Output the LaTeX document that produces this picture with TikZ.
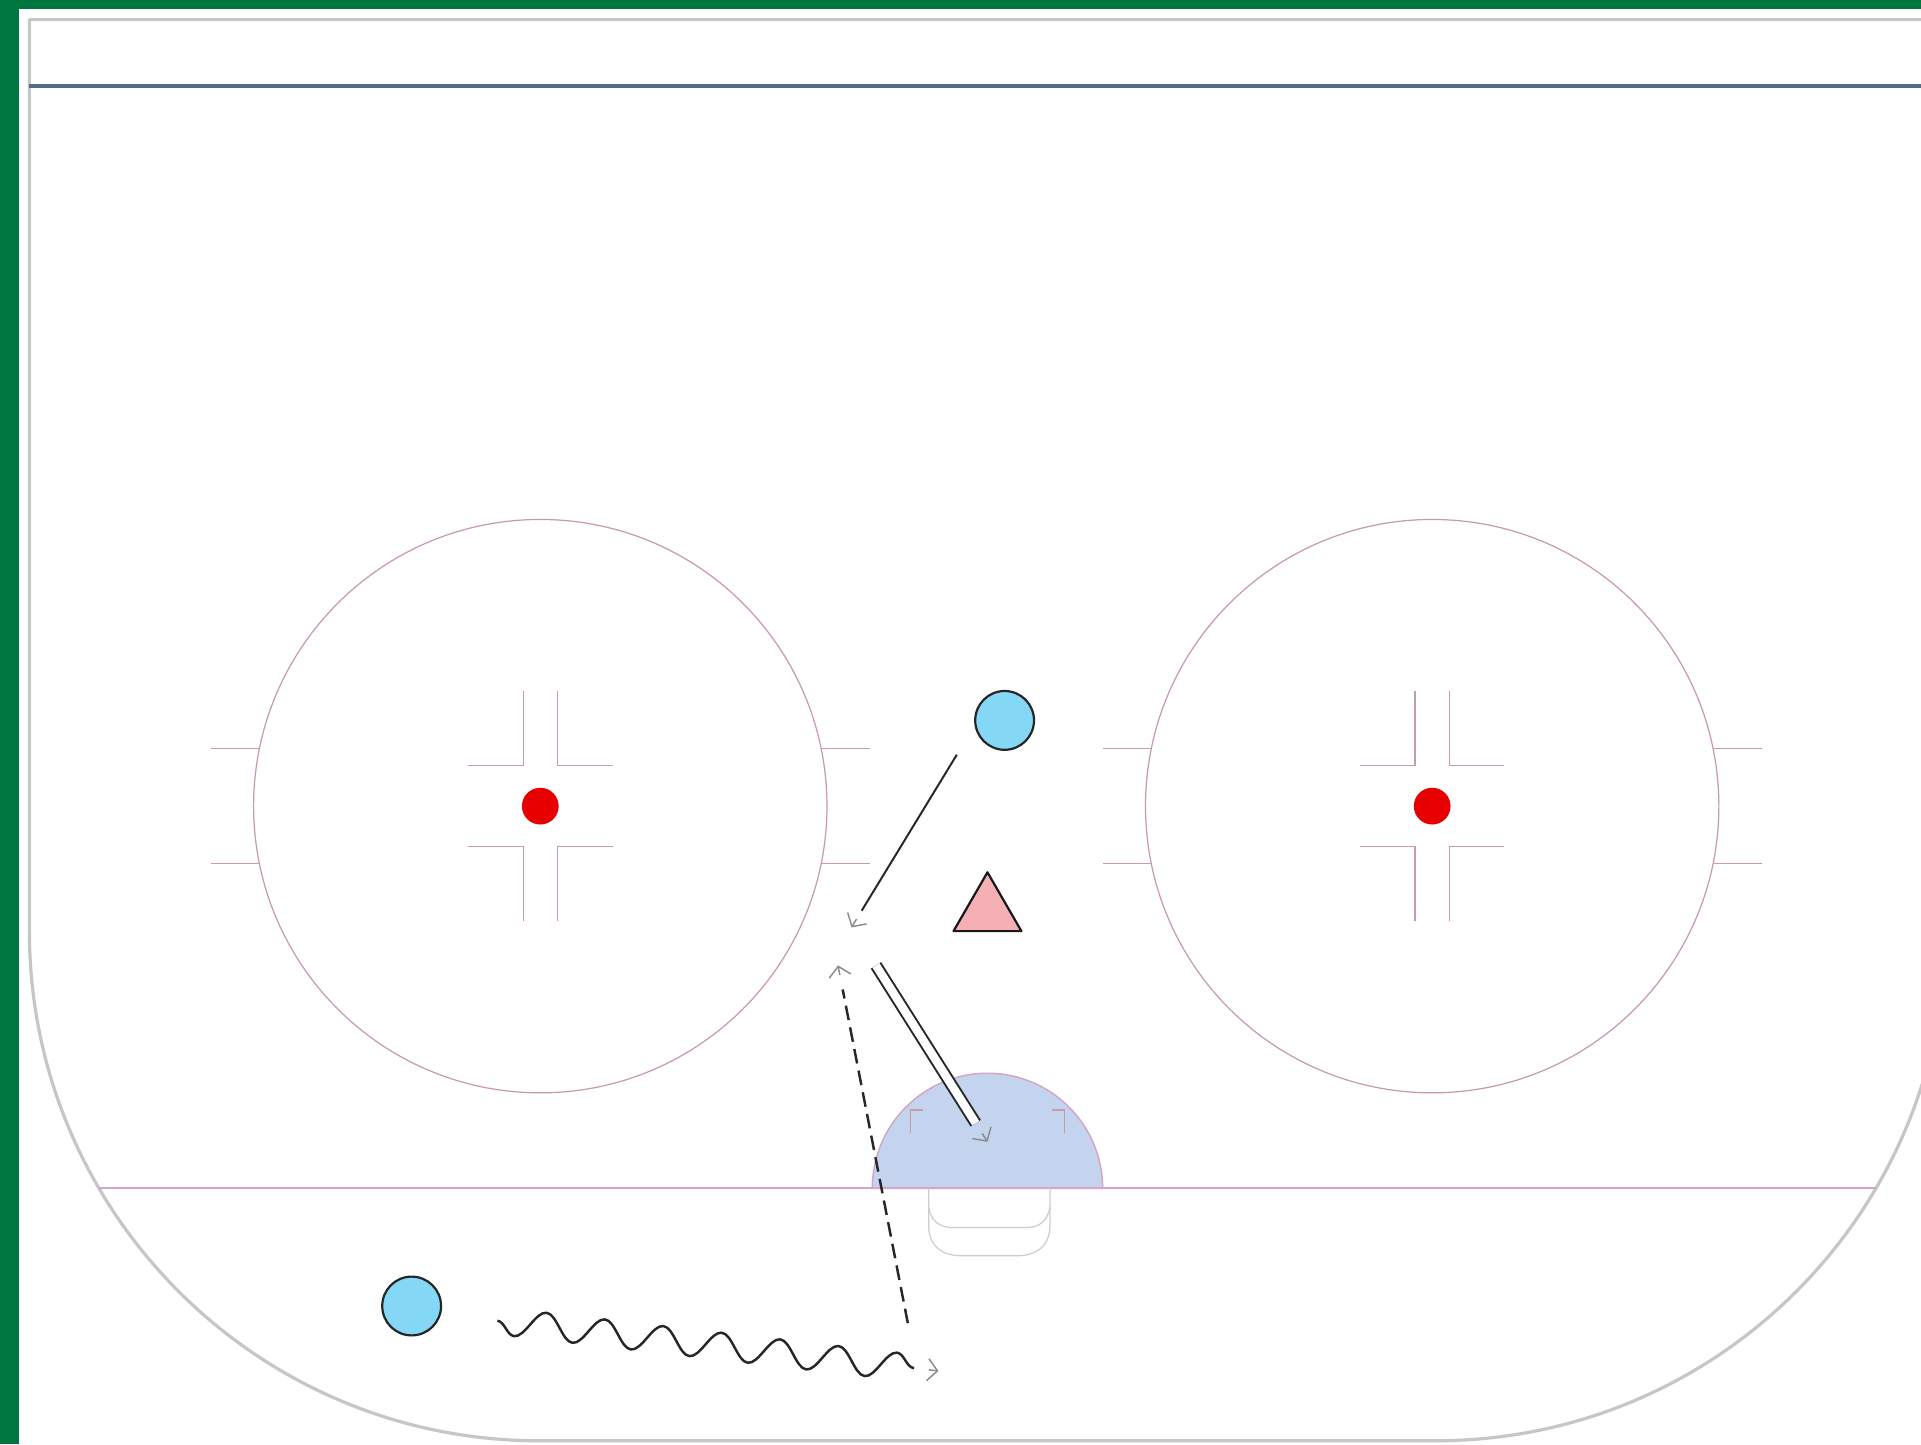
\documentclass[tikz,border=0pt]{standalone}
\usepackage{xcolor}
\usepackage{tikz}
\usetikzlibrary{shapes.geometric, arrows.meta, decorations.pathmorphing, positioning, calc}

\definecolor{rinkgreen}{RGB}{0,118,63}
\definecolor{boardgray}{RGB}{198,198,198}
\definecolor{blueline}{RGB}{80,108,138}
\definecolor{markred}{RGB}{200,155,165}
\definecolor{goalmauve}{RGB}{212,165,198}
\definecolor{creaseblue}{RGB}{196,211,238}
\definecolor{netgray}{RGB}{205,205,205}
\definecolor{dotred}{RGB}{230,0,0}
\definecolor{skaterblue}{RGB}{132,216,245}
\definecolor{coachpink}{RGB}{245,176,182}
\definecolor{tipgray}{RGB}{140,140,140}

\begin{document}
\begin{tikzpicture}[x=0.5pt, y=-0.5pt, line join=round]
    \tikzset{
        boards/.style={draw=boardgray, line width=1.3pt},
        faceoff/.style={draw=markred, line width=0.5pt},
        net/.style={draw=netgray, line width=0.5pt},
        player/.style={circle, draw=black!85, fill=skaterblue, line width=0.9pt, minimum size=24pt, inner sep=0pt},
        coach/.style={regular polygon, regular polygon sides=3, draw=black!90, fill=coachpink, line width=0.9pt, minimum size=32pt, inner sep=0pt},
        tip/.style={draw=tipgray, line width=0.6pt, -{Straight Barb[length=4pt, width=9pt]}},
        skate/.style={draw=black!85, line width=0.8pt},
        pass/.style={draw=black!85, double=white, double distance=3.4pt, line width=0.8pt},
        backskate/.style={draw=black!85, line width=1pt, dash pattern=on 6pt off 3pt},
        carry/.style={draw=black!85, line width=1pt, decorate, decoration={snake, mirror, amplitude=5.5pt, segment length=24pt}}
    }

    \useasboundingbox (0,0) rectangle (1568,1179);
    \fill[white] (0,0) rectangle (1568,1179);
    \fill[rinkgreen] (0,0) rectangle (15.5,1179);
    \fill[rinkgreen] (0,0) rectangle (1568,7.5);

    \draw[boards] (1600,16) -- (24,16) -- (24,760) arc[start angle=180, end angle=90, radius=416] -- (1172,1176) arc[start angle=90, end angle=0, radius=416] -- (1588,16);
    \draw[draw=blueline, line width=1.8pt] (24,70) -- (1568,70);

    \foreach \cx in {441,1169} {
        \draw[faceoff] (\cx,658) circle[radius=234];
        \foreach \sx in {-1,1} {
            \draw[faceoff] (\cx+\sx*229,611) -- (\cx+\sx*269,611);
            \draw[faceoff] (\cx+\sx*229,705) -- (\cx+\sx*269,705);
            \foreach \sy in {-1,1}
                \draw[faceoff] (\cx+\sx*14,658+\sy*94) -- (\cx+\sx*14,658+\sy*33) -- (\cx+\sx*59,658+\sy*33);
        }
        \fill[dotred] (\cx,658) circle[radius=15];
    }

    \filldraw[fill=creaseblue, draw=goalmauve, line width=0.6pt] (712,970) arc[start angle=180, end angle=360, radius=94] -- cycle;
    \draw[faceoff] (743,925) -- (743,906) -- (753,906);
    \draw[faceoff] (869,925) -- (869,906) -- (859,906);
    \draw[draw=goalmauve, line width=0.8pt] (81,970) -- (1531,970);
    \draw[net] (758,970) -- (758,1000) .. controls (758,1018) and (770,1025) .. (785,1025) -- (830,1025) .. controls (845,1025) and (857,1018) .. (857,1000) -- (857,970);
    \draw[net] (758,985) .. controls (760,998) and (768,1002) .. (778,1002) -- (837,1002) .. controls (847,1002) and (855,998) .. (857,985);

    \node (Shooter) [player] at (820,588) {};
    \node (Coach) [coach] at (806,744) {};
    \node (Carrier) [player] at (336,1066) {};

    \coordinate (CutStart) at ($(Shooter)+(-39,28)$);
    \coordinate (CutTip) at (695,757);
    \coordinate (PassStart) at (715,788);
    \coordinate (PassTip) at (806,932);
    \coordinate (BackStart) at (741,1080);
    \coordinate (BackTip) at (684,788);
    \coordinate (CarryStart) at ($(Carrier)+(70,12)$);
    \coordinate (CarryTip) at (766,1119);

    \draw[skate, shorten >=8pt] (CutStart) -- (CutTip);
    \draw[tip] ($(CutTip)!4pt!(CutStart)$) -- (CutTip);
    \draw[pass, shorten >=9pt] (PassStart) -- (PassTip);
    \draw[tip] ($(PassTip)!4pt!(PassStart)$) -- (PassTip);
    \draw[backskate, shorten >=10pt] (BackStart) -- (BackTip);
    \draw[tip] ($(BackTip)!4pt!(BackStart)$) -- (BackTip);
    \draw[carry] (CarryStart) -- ($(CarryTip)!10pt!(CarryStart)$);
    \draw[tip] ($(CarryTip)!4pt!(CarryStart)$) -- (CarryTip);
\end{tikzpicture}
\end{document}
